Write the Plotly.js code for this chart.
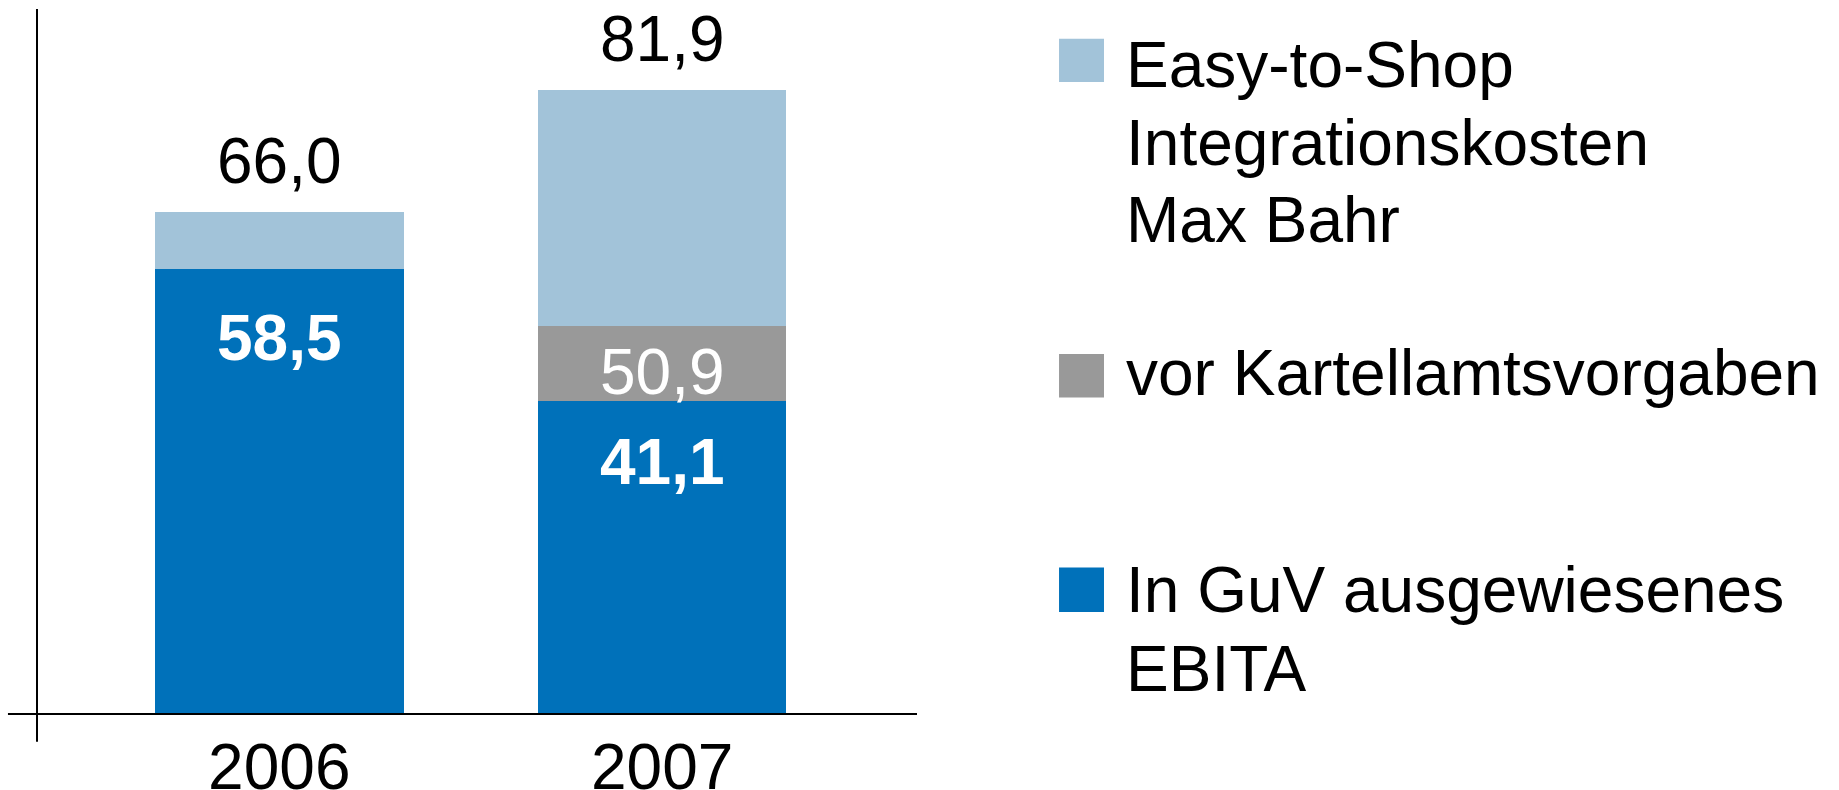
<!DOCTYPE html>
<html>
<head>
<meta charset="utf-8">
<script src="https://cdn.plot.ly/plotly-3.0.1.min.js"></script>
<style>html,body{margin:0;padding:0;background:#fff;}#chart{width:1839px;height:790px;}</style>
</head>
<body>
<div id="chart"></div>
<script>
// ---- data ----
const years = ['2006', '2007'];
const ebita = [58.5, 41.1];          // In GuV ausgewiesenes EBITA
const kartell = [0, 9.8];            // vor Kartellamtsvorgaben
const easyToShop = [7.5, 31.0];      // Easy-to-Shop Integrationskosten Max Bahr
const seriesNames = ['In GuV ausgewiesenes EBITA', 'vor Kartellamtsvorgaben', 'Easy-to-Shop Integrationskosten Max Bahr'];
const legendLines = [
  ['Easy-to-Shop', 'Integrationskosten', 'Max Bahr'],
  ['vor Kartellamtsvorgaben'],
  ['In GuV ausgewiesenes', 'EBITA']
];

// ---- styles ----
const COL_BLUE = '#0071BA';
const COL_GREY = '#999999';
const COL_LIGHT = '#A2C3D9';
const FONT = '"Liberation Sans", Arial, sans-serif';
const FS = 64;
const BARW = 0.649;

const fmt = v => v.toFixed(1).replace('.', ',');
const totals = years.map((_, i) => ebita[i] + kartell[i] + easyToShop[i]);
const midTotals = years.map((_, i) => ebita[i] + kartell[i]);

const traces = [
  {type: 'bar', name: seriesNames[0], x: years, y: ebita, width: BARW,
   marker: {color: COL_BLUE, line: {width: 0}}, hoverinfo: 'skip', showlegend: false},
  {type: 'bar', name: seriesNames[1], x: years, y: kartell, width: BARW,
   marker: {color: COL_GREY, line: {width: 0}}, hoverinfo: 'skip', showlegend: false},
  {type: 'bar', name: seriesNames[2], x: years, y: easyToShop, width: BARW,
   marker: {color: COL_LIGHT, line: {width: 0}}, hoverinfo: 'skip', showlegend: false}
];

const annotations = [];
// totals above bars (x given as category index)
years.forEach((yr, i) => {
  annotations.push({x: i, y: totals[i], xref: 'x', yref: 'y', text: fmt(totals[i]),
    showarrow: false, xanchor: 'center', yanchor: 'middle', yshift: 51,
    font: {family: FONT, size: FS, color: '#000'}});
});
// base (EBITA) labels, bold white
const baseShift = [-69, -61];
years.forEach((yr, i) => {
  annotations.push({x: i, y: ebita[i], xref: 'x', yref: 'y', text: '<b>' + fmt(ebita[i]) + '</b>',
    showarrow: false, xanchor: 'center', yanchor: 'middle', yshift: baseShift[i],
    font: {family: FONT, size: FS, color: '#fff'}});
});
// cumulative label on grey segment
years.forEach((yr, i) => {
  if (kartell[i] > 0) {
    annotations.push({x: i, y: midTotals[i], xref: 'x', yref: 'y', text: fmt(midTotals[i]),
      showarrow: false, xanchor: 'center', yanchor: 'middle', yshift: -46,
      font: {family: FONT, size: FS, color: '#fff'}});
  }
});

// ---- custom legend (large squares + text) ----
const legendColors = [COL_LIGHT, COL_GREY, COL_BLUE];
const squareY = [[0.9579, 0.8965], [0.5106, 0.4488], [0.2077, 0.1447]];
const lineY = [[0.9206, 0.8099, 0.7007], [0.4837], [0.1759, 0.0638]];
const shapes = [
  // y axis line (extends below x axis)
  {type: 'line', xref: 'paper', yref: 'paper', x0: 0, x1: 0, y0: -0.0393, y1: 1,
   line: {color: '#000', width: 2}},
  // x axis line (extends left of y axis)
  {type: 'line', xref: 'paper', yref: 'paper', x0: -0.033, x1: 1, y0: 0, y1: 0,
   line: {color: '#000', width: 2}}
];
legendLines.forEach((lines, k) => {
  shapes.push({type: 'rect', xref: 'paper', yref: 'paper', x0: 1.1614, x1: 1.2125,
    y0: squareY[k][1], y1: squareY[k][0], fillcolor: legendColors[k], line: {width: 0}});
  lines.forEach((t, j) => {
    annotations.push({xref: 'paper', yref: 'paper', x: 1.2352, y: lineY[k][j], text: t,
      showarrow: false, xanchor: 'left', yanchor: 'middle',
      font: {family: FONT, size: FS, color: '#000'}});
  });
});

const layout = {
  width: 1839, height: 790,
  margin: {l: 37, r: 922, t: 9, b: 76, pad: 0},
  paper_bgcolor: '#fff', plot_bgcolor: '#fff',
  barmode: 'stack',
  showlegend: false,
  font: {family: FONT, size: FS, color: '#000'},
  xaxis: {type: 'category', range: [-0.6328, 1.6654], showgrid: false, showline: false,
          zeroline: false, ticks: '', ticklabelstandoff: 10,
          tickfont: {family: FONT, size: FS, color: '#000'}, fixedrange: true},
  yaxis: {range: [0, 92.6], showgrid: false, showline: false, zeroline: false,
          showticklabels: false, ticks: '', fixedrange: true},
  shapes: shapes,
  annotations: annotations
};

Plotly.newPlot('chart', traces, layout, {displayModeBar: false, staticPlot: true});
</script>
</body>
</html>
